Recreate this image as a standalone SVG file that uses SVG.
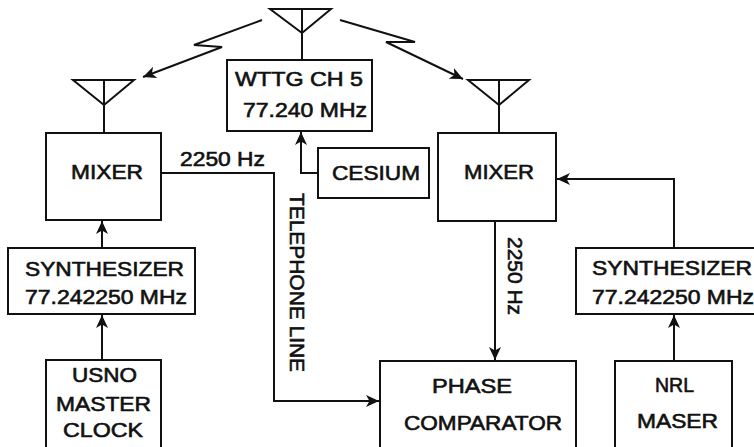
<svg xmlns="http://www.w3.org/2000/svg" width="754" height="447" viewBox="0 0 754 447">
<style>
.box{fill:#fff;stroke:#111;stroke-width:2}
.ln{fill:none;stroke:#111;stroke-width:2}
.ant{fill:none;stroke:#111;stroke-width:2;stroke-linejoin:miter}
text{font-family:"Liberation Sans",Arial,Helvetica,sans-serif;font-size:20px;fill:#111;stroke:#111;stroke-width:0.6}
</style>
<defs>
<marker id="ah" markerUnits="userSpaceOnUse" markerWidth="14" markerHeight="12" refX="13" refY="6" orient="auto">
<path d="M0,0 L13,6 L0,12 L3.5,6 Z" fill="#111"/>
</marker>
</defs>
<rect width="754" height="447" fill="#fff"/>

<g id="connectors">
<polyline class="ln" points="262,20 194,45 222,47 143,77" marker-end="url(#ah)"/>
<polyline class="ln" points="340,20 415,42 386,42 463,79" marker-end="url(#ah)"/>
<line class="ln" x1="102" y1="248" x2="102" y2="221" marker-end="url(#ah)"/>
<line class="ln" x1="102" y1="360" x2="102" y2="315" marker-end="url(#ah)"/>
<polyline class="ln" points="161,173 274,173 274,401 379,401" marker-end="url(#ah)"/>
<polyline class="ln" points="318,173 301,173 301,132" marker-end="url(#ah)"/>
<line class="ln" x1="495" y1="221" x2="495" y2="360" marker-end="url(#ah)"/>
<polyline class="ln" points="674,248 674,179 557,179" marker-end="url(#ah)"/>
<line class="ln" x1="674" y1="361" x2="674" y2="315" marker-end="url(#ah)"/>
<text x="180" y="166" textLength="85" lengthAdjust="spacingAndGlyphs">2250 Hz</text>
<text x="290" y="193" transform="rotate(90 290 193)" textLength="179" lengthAdjust="spacingAndGlyphs">TELEPHONE  LINE</text>
<text x="508" y="237" transform="rotate(90 508 237)" textLength="78" lengthAdjust="spacingAndGlyphs">2250 Hz</text>
</g>

<g id="antenna-top">
<polygon class="ant" points="270,9 331,9 302,33"/>
<line class="ln" x1="302" y1="9" x2="302" y2="60"/>
</g>
<g id="antenna-left">
<polygon class="ant" points="73,80 134,80 104,105"/>
<line class="ln" x1="104" y1="80" x2="104" y2="133"/>
</g>
<g id="antenna-right">
<polygon class="ant" points="468,80 529,80 499,105"/>
<line class="ln" x1="499" y1="80" x2="499" y2="133"/>
</g>

<g id="wttg">
<rect class="box" x="227" y="60" width="145" height="71"/>
<text x="235" y="86" textLength="128" lengthAdjust="spacingAndGlyphs">WTTG CH 5</text>
<text x="243" y="117" textLength="124" lengthAdjust="spacingAndGlyphs">77.240 MHz</text>
</g>

<g id="cesium">
<rect class="box" x="318" y="148" width="111" height="50"/>
<text x="332" y="180" textLength="88" lengthAdjust="spacingAndGlyphs">CESIUM</text>
</g>

<g id="mixer-left">
<rect class="box" x="46" y="133" width="115" height="87"/>
<text x="71" y="179" textLength="72" lengthAdjust="spacingAndGlyphs">MIXER</text>
</g>

<g id="mixer-right">
<rect class="box" x="438" y="133" width="118" height="88"/>
<text x="464" y="179" textLength="70" lengthAdjust="spacingAndGlyphs">MIXER</text>
</g>

<g id="synth-left">
<rect class="box" x="8" y="248" width="187" height="66"/>
<text x="25" y="276" textLength="159" lengthAdjust="spacingAndGlyphs">SYNTHESIZER</text>
<text x="25" y="304" textLength="162" lengthAdjust="spacingAndGlyphs">77.242250 MHz</text>
</g>

<g id="synth-right">
<rect class="box" x="576" y="248" width="190" height="66"/>
<text x="592" y="275" textLength="160" lengthAdjust="spacingAndGlyphs">SYNTHESIZER</text>
<text x="592" y="304" textLength="162" lengthAdjust="spacingAndGlyphs">77.242250 MHz</text>
</g>

<g id="usno">
<rect class="box" x="46" y="360" width="115" height="95"/>
<text x="72" y="382" textLength="65" lengthAdjust="spacingAndGlyphs">USNO</text>
<text x="56" y="411" textLength="95" lengthAdjust="spacingAndGlyphs">MASTER</text>
<text x="63" y="437" textLength="80" lengthAdjust="spacingAndGlyphs">CLOCK</text>
</g>

<g id="phase-comparator">
<rect class="box" x="380" y="361" width="196" height="95"/>
<text x="432" y="393" textLength="80" lengthAdjust="spacingAndGlyphs">PHASE</text>
<text x="404" y="430" textLength="158" lengthAdjust="spacingAndGlyphs">COMPARATOR</text>
</g>

<g id="nrl-maser">
<rect class="box" x="615" y="361" width="117" height="95"/>
<text x="655" y="392" textLength="39" lengthAdjust="spacingAndGlyphs">NRL</text>
<text x="637" y="428" textLength="81" lengthAdjust="spacingAndGlyphs">MASER</text>
</g>
</svg>
